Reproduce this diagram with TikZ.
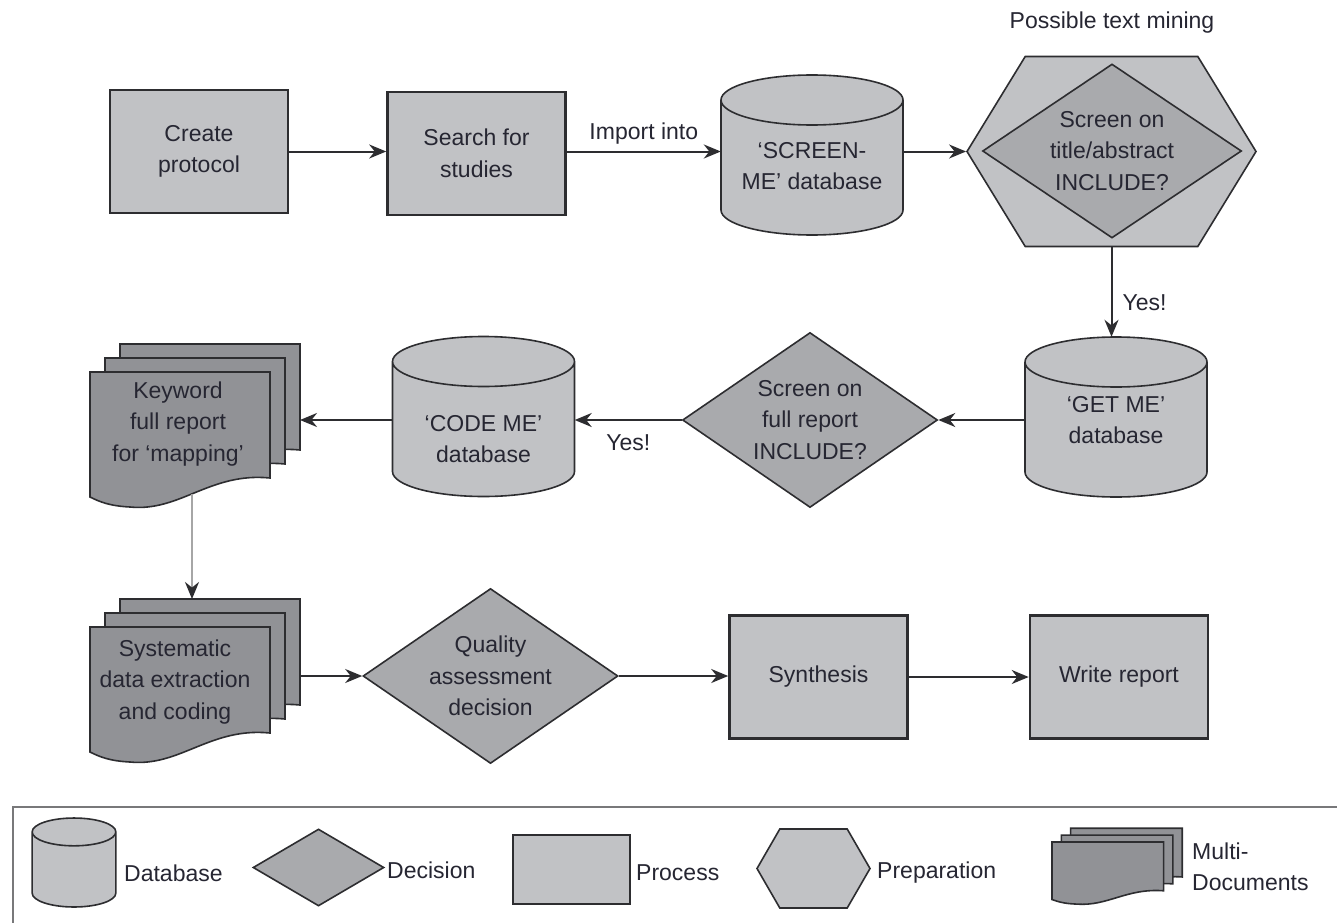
\documentclass[tikz,border=0pt]{standalone}
\usepackage{fontspec}
\setmainfont{Liberation Sans}
\usetikzlibrary{shapes.geometric,shapes.symbols,arrows.meta}

\definecolor{boxgray}{RGB}{193,194,197}
\definecolor{decgray}{RGB}{169,170,173}
\definecolor{docgray}{RGB}{145,146,150}
\definecolor{linegray}{RGB}{45,45,48}
\definecolor{txtgray}{RGB}{38,38,50}
\definecolor{framegray}{RGB}{120,120,122}

\begin{document}
\begin{tikzpicture}[x=1pt, y=-1pt, font=\fontsize{23}{31.5}\selectfont, text=txtgray]
    \tikzstyle{every node}=[align=center, inner sep=0pt]
    \tikzstyle{process}=[rectangle, draw=linegray, line width=2.6pt, fill=boxgray, minimum width=178pt, minimum height=123pt]
    \tikzstyle{dbox}=[rectangle, minimum width=182pt, minimum height=160pt]
    \tikzstyle{dbfill}=[draw=linegray, line width=1.6pt, fill=boxgray, line join=round]
    \tikzstyle{dbshape}=[insert path={(-91,-55) -- (-91,55) .. controls (-91,68.8) and (-50.3,80) .. (0,80) .. controls (50.3,80) and (91,68.8) .. (91,55) -- (91,-55) .. controls (91,-68.8) and (50.3,-80) .. (0,-80) .. controls (-50.3,-80) and (-91,-68.8) .. (-91,-55) .. controls (-91,-41.2) and (-50.3,-30) .. (0,-30) .. controls (50.3,-30) and (91,-41.2) .. (91,-55)}]
    \tikzstyle{decision}=[diamond, aspect=1.46, draw=linegray, line width=1.6pt, fill=decgray, minimum width=255pt, minimum height=175pt]
    \tikzstyle{prep}=[signal, signal to=west and east, signal pointer angle=117, draw=linegray, line width=1.6pt, fill=boxgray, minimum width=289pt, minimum height=190pt]
    \tikzstyle{page}=[draw=linegray, line width=1.6pt, fill=docgray]
    \tikzstyle{docpage}=[insert path={(0,0) -- (180,0) -- (180,106) .. controls (120,100) and (90,140) .. (40,135) .. controls (20,134) and (10,130) .. (0,125) -- cycle}]
    \tikzstyle{flow}=[line width=2pt, draw=linegray, -{Stealth[length=17pt, width=14pt]}]
    \tikzstyle{gflow}=[line width=2pt, draw=gray!70, -{Stealth[length=17pt, width=14pt, color=linegray]}]

    \path[fill=white, use as bounding box] (0,0) rectangle (1337,923);

    % top row
    \node [process] (cp) at (199,151.5) {Create\\protocol};
    \node [process] (sfs) at (476.5,153.5) {Search for\\studies};
    \filldraw [dbfill, shift={(812,155)}, dbshape];
    \node [dbox] (scr) at (812,155) {};
    \node (scrt) at (812,166) {`SCREEN-\\ME' database};
    \node [prep] (hex) at (1111.5,151.5) {};
    \node [decision, aspect=1.49, minimum width=259pt, minimum height=174pt] (sta) at (1112,151) {Screen on\\title/abstract\\INCLUDE?};
    \node (ptm) at (1112,23) {Possible text mining};

    % middle row
    \filldraw [dbfill, shift={(1116,417)}, dbshape];
    \node [dbox] (gm) at (1116,417) {};
    \node (gmt) at (1116,420) {`GET ME'\\database};
    \node [decision] (fr) at (810,420) {Screen on\\full report\\INCLUDE?};
    \filldraw [dbfill, shift={(483.5,416.5)}, dbshape];
    \node [dbox] (cm) at (483.5,416.5) {};
    \node (cmt) at (483.5,439) {`CODE ME'\\database};

    % document stacks
    \foreach \d in {2,1,0} {
        \filldraw [page, shift={(90,372)}, shift={(15*\d,-14*\d)}, docpage];
        \filldraw [page, shift={(90,627)}, shift={(15*\d,-14*\d)}, docpage];
    }
    \node (kw) at (178,424) {Keyword\\full report\\for `mapping'};
    \node (sys) at (175,682) {Systematic\\data extraction\\and coding};
    \coordinate (kwr) at (300,420);
    \coordinate (kwb) at (192,494);
    \coordinate (syt) at (192,599);
    \coordinate (syr) at (300,676);

    % bottom row
    \node [decision] (qa) at (490.5,676) {Quality\\assessment\\decision};
    \node [process] (syn) at (818.5,677) {Synthesis};
    \node [process] (wr) at (1119,677) {Write report};

    % connectors
    \draw [flow] (cp.east) -- (cp.east -| sfs.west);
    \draw [flow] (sfs.east |- cp.east) -- node [above=6pt] {Import into} (cp.east -| scr.west);
    \draw [flow] (hex.west -| scr.east) -- (hex.west);
    \draw [flow] (hex.south) -- node [pos=0.62, right=10pt] {Yes!} (hex.south |- gm.north);
    \draw [flow] (fr.east -| gm.west) -- (fr.east);
    \draw [flow] (fr.west) -- node [below=14pt] {Yes!} (fr.west -| cm.east);
    \draw [flow] (kwr -| cm.west) -- (kwr);
    \draw [gflow] (kwb) -- (syt);
    \draw [flow] (syr) -- (qa.west);
    \draw [flow] (qa.east) -- (qa.east -| syn.west);
    \draw [flow] (syn.east) -- (wr.west);

    % legend
    \draw [line width=2pt, draw=framegray] (1337,807) -- (13,807) -- (13,923);
    \filldraw [dbfill, shift={(74,862.5)}, xscale=0.46, yscale=0.556, dbshape];
    \node [dbox, minimum width=84pt, minimum height=89pt] (ldb) at (74,862.5) {};
    \node [anchor=west] (ldbt) at (124,873) {Database};
    \node [decision, minimum width=131pt, minimum height=77pt] (ldec) at (318.5,867.5) {};
    \node [anchor=west] (ldect) at (387,870) {Decision};
    \node [process, minimum width=117pt, minimum height=69pt] (lproc) at (571.5,869.5) {};
    \node [anchor=west] (lproct) at (636,873) {Process};
    \node [prep, signal pointer angle=120, minimum width=113pt, minimum height=79pt] (lprep) at (813.5,868.5) {};
    \node [anchor=west] (lprept) at (877,873) {Preparation};
    \foreach \d in {2,1,0}
        \filldraw [page, shift={(1052,842)}, xscale=0.62, yscale=0.46, shift={(15*\d,-15*\d)}, docpage];
    \node [anchor=west, align=left] (lmdt) at (1192,867) {Multi-\\Documents};
\end{tikzpicture}
\end{document}
